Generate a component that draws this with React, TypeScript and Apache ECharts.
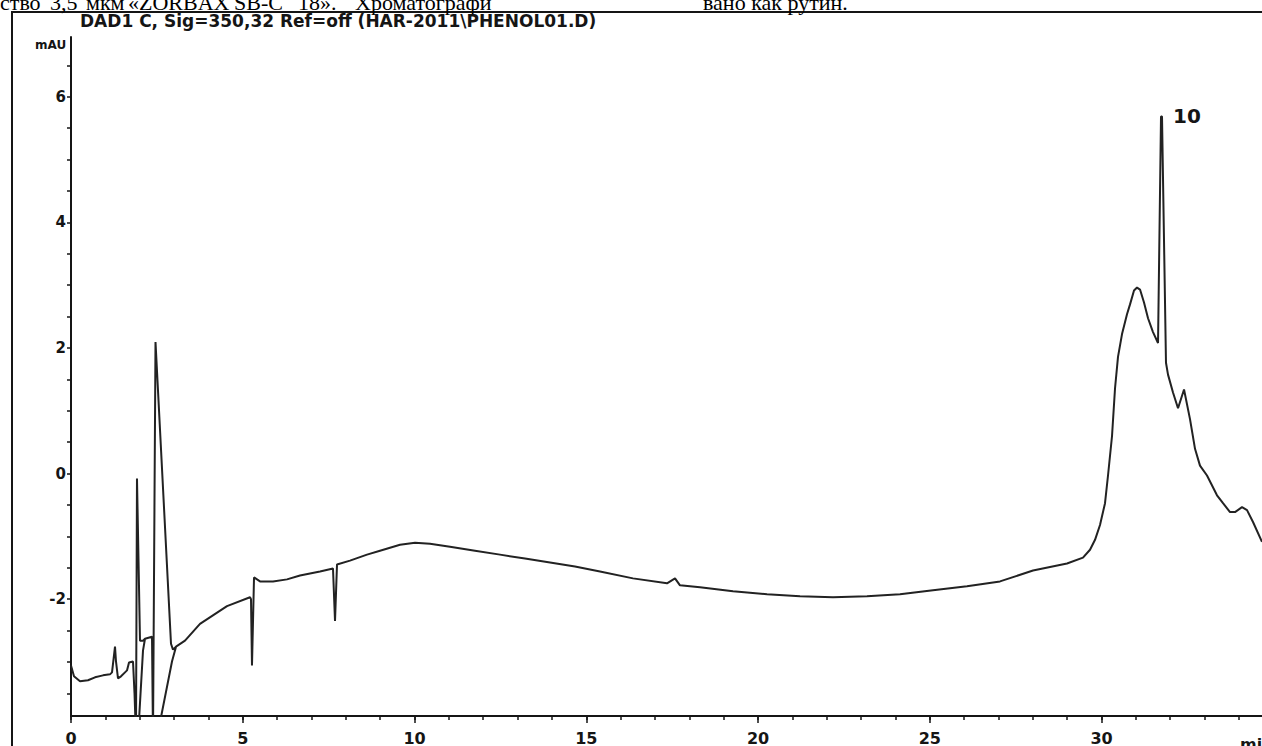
import React, { useEffect, useRef } from "react";
import * as echarts from "echarts";

// Retention time (min) and signal (mAU), in drawing order; null breaks the trace
const TIME_MIN: (number | null)[] = [
  0.0, 0.087, 0.262, 0.495, 0.699, 0.932, 1.135, 1.194, 1.281, 1.31, 1.368, 1.456, 1.572, 1.63,
  1.689, 1.805, 1.849, 1.892, 1.921, 2.009, 2.096, 2.154, 2.358, 2.387, 2.46, 2.911, 2.969, 3.057,
  3.319, 3.755, 4.541, 5.211, 5.24, 5.269, 5.328, 5.502, 5.881, 6.288, 6.667, 7.249, 7.627, 7.686,
  7.744, 8.122, 8.617, 8.996, 9.578, 10.015, 10.451, 11.033, 11.761, 12.489, 13.217, 13.945, 14.672,
  15.4, 16.361, 17.351, 17.584, 17.729, 18.311, 19.272, 20.262, 21.223, 22.183, 23.173, 24.134,
  25.095, 26.084, 27.045, 28.006, 28.996, 29.461, 29.665, 29.811, 29.956, 30.102, 30.189, 30.306,
  30.393, 30.48, 30.597, 30.742, 30.83, 30.946, 31.034, 31.121, 31.237, 31.354, 31.499, 31.645,
  31.732, 31.761, 31.877, 31.936, 32.081, 32.227, 32.402, 32.576, 32.722, 32.867, 33.071, 33.362,
  33.537, 33.741, 33.886, 34.09, 34.236, 34.41, 34.672,
  null, 1.951, 2.096, 2.154,
  null, 2.504, 2.94, 3.057,
];
const SIGNAL_MAU: (number | null)[] = [
  -3.055, -3.228, -3.307, -3.291, -3.244, -3.213, -3.197, -3.165, -2.756, -2.992, -3.26, -3.228,
  -3.165, -3.134, -3.008, -2.992, -3.496, -4.2, -0.079, -2.661, -2.66, -2.63, -2.598, -4.2, 2.094,
  -2.709, -2.803, -2.756, -2.661, -2.394, -2.11, -1.969, -2.0, -3.055, -1.654, -1.717, -1.717,
  -1.685, -1.622, -1.559, -1.512, -2.346, -1.449, -1.386, -1.291, -1.228, -1.134, -1.102, -1.118,
  -1.165, -1.228, -1.291, -1.354, -1.417, -1.48, -1.559, -1.669, -1.748, -1.669, -1.78, -1.811,
  -1.874, -1.921, -1.953, -1.969, -1.953, -1.921, -1.858, -1.795, -1.717, -1.543, -1.433, -1.339,
  -1.213, -1.055, -0.819, -0.472, -0.031, 0.598, 1.354, 1.858, 2.22, 2.535, 2.693, 2.913, 2.961,
  2.929, 2.724, 2.472, 2.252, 2.079, 5.685, 5.685, 1.764, 1.575, 1.291, 1.039, 1.339, 0.866, 0.394,
  0.126, -0.031, -0.346, -0.472, -0.614, -0.614, -0.535, -0.583, -0.772, -1.087,
  null, -4.2, -2.819, -2.63,
  null, -4.2, -2.992, -2.756,
];

const X_LABELS = [0, 5, 10, 15, 20, 25, 30];
const X_MAJOR_TICKS = [0, 5, 10, 15, 20, 25, 30];
const X_MINOR_TICKS = [
  0, 1, 2, 3, 4, 5, 6, 7, 8, 9, 10, 11, 12, 13, 14, 15, 16, 17, 18, 19, 20, 21, 22, 23, 24, 25,
  26, 27, 28, 29, 30, 31, 32, 33, 34,
];
const Y_LABELS = [-2, 0, 2, 4, 6];
const Y_TICKS = [
  -3.5, -3, -2.5, -2, -1.5, -1, -0.5, 0, 0.5, 1, 1.5, 2, 2.5, 3, 3.5, 4, 4.5, 5, 5.5, 6, 6.5,
];

const PEAK_LABEL = "10";
const PEAK_COORD = [31.761, 5.685];

const TITLE = "DAD1 C, Sig=350,32 Ref=off (HAR-2011\\PHENOL01.D)";
const Y_UNIT = "mAU";
const X_UNIT = "min";
// words of the cut-off document line above the figure (justified text)
const DOC_WORDS = ["ство", "3,5", "мкм", "«ZORBAX", "SB-C", "18».", "Хроматографи", "вано как рутин."];
const DOC_WORD_X = [0, 50, 86, 128, 234, 298, 355, 703];

const INK = "#151515";
const LABEL_FONT = "DejaVu Sans";

export default function App() {
  const ref = useRef<HTMLDivElement>(null);

  useEffect(() => {
    if (!ref.current) return;
    const chart = echarts.init(ref.current, null, { renderer: "svg" });

    const data = TIME_MIN.map((t, i) =>
      t === null || SIGNAL_MAU[i] === null ? [null, null] : [t, SIGNAL_MAU[i]]
    );

    const xMin = 0;
    const xMax = 34.672;

    const docTexts = DOC_WORDS.map((w, i) => ({
      type: "text",
      x: DOC_WORD_X[i],
      y: 2,
      style: {
        text: w,
        fill: "#000",
        font: "22px 'Liberation Serif'",
        verticalAlign: "middle",
        align: "left",
      },
    }));

    chart.setOption({
      animation: false,
      backgroundColor: "#ffffff",
      grid: { left: 71, top: 37, right: 0, bottom: 23, containLabel: false },
      xAxis: [
        {
          type: "value",
          min: xMin,
          max: xMax,
          axisLine: { show: true, onZero: false, lineStyle: { color: INK, width: 2 } },
          axisTick: {
            show: true,
            customValues: X_MAJOR_TICKS,
            length: 7,
            lineStyle: { color: INK, width: 1.5 },
          },
          axisLabel: {
            customValues: X_LABELS,
            color: INK,
            fontFamily: LABEL_FONT,
            fontWeight: "bold",
            fontSize: 16,
            margin: 14,
          },
          splitLine: { show: false },
        },
        {
          type: "value",
          position: "bottom",
          min: xMin,
          max: xMax,
          axisLine: { show: false, onZero: false },
          axisTick: {
            show: true,
            customValues: X_MINOR_TICKS,
            length: 4,
            lineStyle: { color: INK, width: 1.5 },
          },
          axisLabel: { show: false },
          splitLine: { show: false },
        },
      ],
      yAxis: {
        type: "value",
        min: -3.86,
        max: 6.95,
        axisLine: { show: true, onZero: false, lineStyle: { color: INK, width: 2 } },
        axisTick: {
          show: true,
          customValues: Y_TICKS,
          length: 4,
          lineStyle: { color: INK, width: 1.5 },
        },
        axisLabel: {
          customValues: Y_LABELS,
          color: INK,
          fontFamily: LABEL_FONT,
          fontWeight: "bold",
          fontSize: 15,
          margin: 5,
        },
        splitLine: { show: false },
      },
      series: [
        {
          type: "line",
          data,
          xAxisIndex: 0,
          symbol: "none",
          showSymbol: false,
          connectNulls: false,
          clip: true,
          lineStyle: { color: "#222222", width: 2 },
          markPoint: {
            symbol: "circle",
            symbolSize: 0,
            silent: true,
            data: [
              {
                coord: PEAK_COORD,
                label: {
                  show: true,
                  formatter: PEAK_LABEL,
                  position: "right",
                  offset: [6, 0],
                  color: INK,
                  fontFamily: LABEL_FONT,
                  fontWeight: "bold",
                  fontSize: 20,
                },
              },
            ],
          },
        },
      ],
      graphic: [
        {
          type: "rect",
          shape: { x: 12, y: 12, width: 1400, height: 900 },
          style: { fill: "none", stroke: INK, lineWidth: 2 },
          silent: true,
        },
        ...docTexts,
        {
          type: "text",
          x: 80,
          y: 21,
          style: {
            text: TITLE,
            fill: INK,
            font: "bold 17px 'DejaVu Sans'",
            verticalAlign: "middle",
            align: "left",
          },
        },
        {
          type: "text",
          x: 35,
          y: 45,
          style: {
            text: Y_UNIT,
            fill: INK,
            font: "bold 12px 'DejaVu Sans'",
            verticalAlign: "middle",
            align: "left",
          },
        },
        {
          type: "text",
          x: 1240,
          y: 744,
          style: {
            text: X_UNIT,
            fill: INK,
            font: "bold 16px 'DejaVu Sans'",
            verticalAlign: "middle",
            align: "left",
          },
        },
      ],
    });

    return () => chart.dispose();
  }, []);

  return (
    <div
      ref={ref}
      style={{ position: "absolute", left: 0, top: 0, width: 1262, height: 746 }}
    />
  );
}
